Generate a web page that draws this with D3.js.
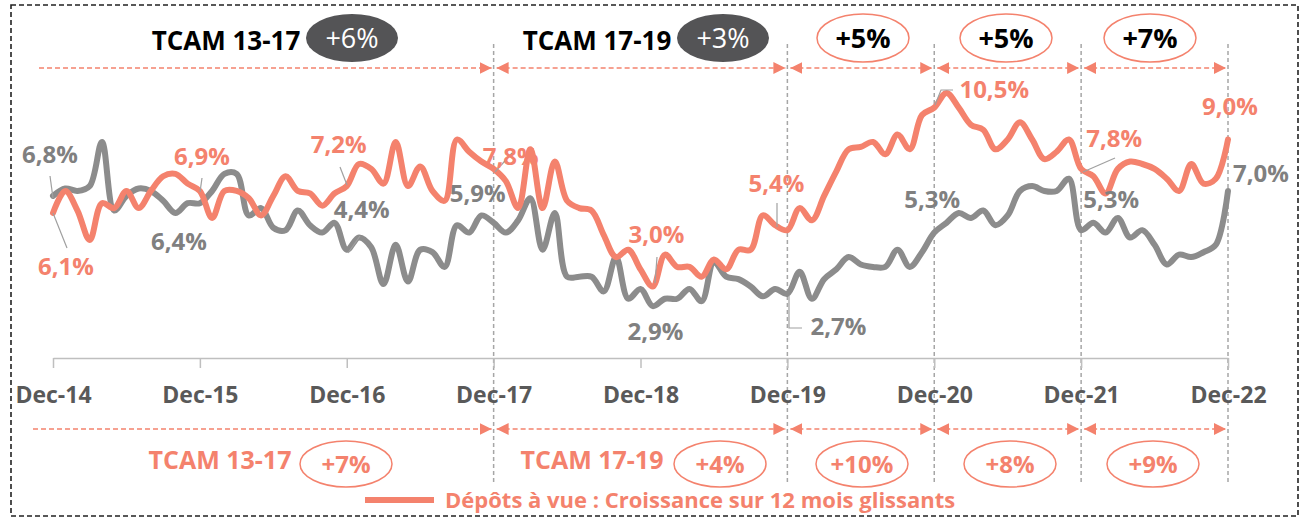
<!DOCTYPE html>
<html>
<head>
<meta charset="utf-8">
<script src="https://cdn.jsdelivr.net/npm/d3@7"></script>
<style>
  body { margin: 0; background: #fff; }
  svg { font-family: "Open Sans", sans-serif; }
</style>
</head>
<body>
<svg id="chart" width="1308" height="518"></svg>
<script>
// tick labels, one per December
const tickLabels = ['Dec-14', 'Dec-15', 'Dec-16', 'Dec-17', 'Dec-18', 'Dec-19', 'Dec-20', 'Dec-21', 'Dec-22'];

// 12-month growth, monthly from Dec-14 to Dec-22 (97 points)
const depots = [
  6.0, 6.9, 6.1, 4.9, 6.4, 6.2, 6.9, 6.2, 6.9, 7.5, 7.6, 7.2,
  6.9, 5.8, 6.9, 6.9, 6.6, 5.9, 6.7, 7.5, 6.9, 6.8, 6.3, 6.8,
  7.1, 8.0, 7.8, 7.2, 8.9, 7.1, 7.9, 6.9, 6.5, 9.0, 8.5, 8.1,
  7.8, 7.3, 6.2, 8.6, 6.2, 8.1, 6.5, 6.2, 6.1, 5.1, 4.2, 4.5,
  3.7, 3.0, 4.3, 3.8, 3.8, 3.4, 4.1, 3.7, 4.5, 4.5, 5.9, 5.5,
  5.3, 6.2, 5.7, 6.7, 7.7, 8.6, 8.7, 8.9, 8.4, 9.2, 8.6, 10.0,
  10.3, 10.9, 10.3, 9.6, 9.4, 8.6, 9.0, 9.7, 9.0, 8.2, 8.5, 9.0,
  7.8, 7.5, 6.8, 7.8, 8.1, 8.0, 7.8, 7.4, 6.9, 8.0, 7.2, 7.4,
  9.0
];

const other = [
  6.7, 7.0, 6.9, 7.1, 8.9, 6.1, 6.7, 7.0, 6.9, 6.5, 6.0, 6.4,
  6.4, 6.9, 7.6, 7.6, 5.9, 6.2, 5.4, 5.3, 6.1, 5.5, 5.2, 5.6,
  4.5, 5.0, 4.6, 3.1, 4.7, 3.2, 4.5, 4.4, 3.8, 5.5, 5.2, 5.9,
  5.6, 5.2, 5.7, 6.6, 4.5, 6.0, 3.4, 3.4, 3.4, 2.8, 4.2, 2.5,
  2.9, 2.2, 2.5, 2.5, 2.9, 2.4, 4.0, 3.4, 3.3, 3.0, 2.6, 2.9,
  2.7, 3.6, 2.5, 3.3, 3.7, 4.2, 3.9, 3.8, 3.8, 4.5, 3.8, 4.4,
  5.2, 5.6, 6.0, 5.8, 6.1, 5.5, 5.9, 6.9, 7.1, 6.9, 6.9, 7.4,
  5.3, 5.6, 5.2, 5.8, 5.0, 5.3, 4.7, 3.9, 4.3, 4.2, 4.4, 4.7,
  6.9
];

// period splits (month index) and growth rates
const periodStarts = [0, 36, 60, 72, 84];
const periodEnds = [36, 60, 72, 84, 96];
const topRates = ['+6%', '+3%', '+5%', '+5%', '+7%'];
const bottomRates = ['+7%', '+4%', '+10%', '+8%', '+9%'];
const periodNames = ['TCAM 13-17', 'TCAM 17-19'];

// point labels: [series, month index, text]
const pointLabels = [
  ['o', 0, '6,8%'], ['d', 0, '6,1%'], ['o', 12, '6,4%'], ['d', 12, '6,9%'],
  ['d', 24, '7,2%'], ['o', 24, '4,4%'], ['o', 36, '5,9%'], ['d', 36, '7,8%'],
  ['d', 48, '3,0%'], ['o', 48, '2,9%'], ['d', 60, '5,4%'], ['o', 60, '2,7%'],
  ['d', 72, '10,5%'], ['o', 72, '5,3%'], ['d', 84, '7,8%'], ['o', 84, '5,3%'],
  ['d', 96, '9,0%'], ['o', 96, '7,0%']
];

const ORANGE = '#F4826D';
const GREY = '#8C8C8C';
const LABEL_GREY = '#808080';

const svg = d3.select('#chart');

const x = d3.scaleLinear().domain([0, 96]).range([53, 1228]);
const y = d3.scaleLinear().domain([0, 12]).range([360, 66]);

// outer dashed frame
svg.append('rect')
    .attr('x', 11).attr('y', 5).attr('width', 1287).attr('height', 511)
    .attr('fill', 'none').attr('stroke', '#222').attr('stroke-width', 1.6)
    .attr('stroke-dasharray', '5,3');

// vertical dashed separators
svg.append('g')
    .selectAll('line')
    .data([36, 60, 72, 84, 96])
    .enter().append('line')
    .attr('x1', d => x(d)).attr('x2', d => x(d))
    .attr('y1', 44).attr('y2', 482)
    .attr('stroke', '#A6A6A6').attr('stroke-width', 1.5)
    .attr('stroke-dasharray', '4,3');

// x axis
const axis = svg.append('g')
    .attr('transform', 'translate(0,358)')
    .call(d3.axisBottom(x)
        .tickValues(d3.range(0, 97, 12))
        .tickFormat((d, i) => tickLabels[i])
        .tickSize(10)
        .tickSizeOuter(0));
axis.select('.domain').attr('stroke', '#BFBFBF').attr('stroke-width', 1.5);
axis.selectAll('.tick line').attr('stroke', '#BFBFBF').attr('stroke-width', 1.5);
axis.selectAll('.tick text')
    .attr('y', 45).attr('dy', null)
    .style('font-family', '"Open Sans", sans-serif')
    .style('font-size', '23px')
    .style('font-weight', 'bold')
    .attr('fill', '#595959');

// arrow markers
const defs = svg.append('defs');
defs.append('marker')
    .attr('id', 'arrow').attr('viewBox', '0 0 10 10')
    .attr('refX', 10).attr('refY', 5)
    .attr('markerWidth', 12).attr('markerHeight', 14)
    .attr('markerUnits', 'userSpaceOnUse')
    .attr('orient', 'auto-start-reverse')
    .append('path').attr('d', 'M0,0L10,5L0,10Z').attr('fill', ORANGE);

function arrowRow(yPos, firstStart) {
    svg.append('g')
        .selectAll('line')
        .data(periodStarts)
        .enter().append('line')
        .attr('x1', (d, i) => i === 0 ? firstStart : x(d) + 3)
        .attr('x2', (d, i) => x(periodEnds[i]) - 2)
        .attr('y1', yPos).attr('y2', yPos)
        .attr('stroke', ORANGE).attr('stroke-width', 1.5)
        .attr('stroke-dasharray', '5,3')
        .attr('marker-end', 'url(#arrow)')
        .attr('marker-start', (d, i) => i === 0 ? null : 'url(#arrow)');
}
arrowRow(68, 39);
arrowRow(429, 33);

// top period captions
const topNameX = [226, 597];
svg.append('g')
    .selectAll('text')
    .data(periodNames)
    .enter().append('text')
    .attr('x', (d, i) => topNameX[i]).attr('y', 50)
    .attr('text-anchor', 'middle')
    .text(d => d)
    .style('font-weight', 'bold')
    .style('font-size', '26px')
    .attr('fill', '#000');

const topEllX = [352, 723, 863, 1006, 1150];
const topEll = svg.append('g')
    .selectAll('g')
    .data(topRates)
    .enter().append('g');
topEll.append('ellipse')
    .attr('cx', (d, i) => topEllX[i]).attr('cy', 38)
    .attr('rx', 46).attr('ry', 24)
    .attr('fill', (d, i) => i < 2 ? '#545456' : '#fff')
    .attr('stroke', (d, i) => i < 2 ? 'none' : ORANGE)
    .attr('stroke-width', 1.5);
topEll.append('text')
    .attr('x', (d, i) => topEllX[i]).attr('y', 48)
    .attr('text-anchor', 'middle')
    .text(d => d)
    .style('font-size', '27px')
    .style('font-weight', (d, i) => i < 2 ? 'normal' : 'bold')
    .attr('fill', (d, i) => i < 2 ? '#fff' : '#000');

// bottom period captions
const botNameX = [220, 592];
svg.append('g')
    .selectAll('text')
    .data(periodNames)
    .enter().append('text')
    .attr('x', (d, i) => botNameX[i]).attr('y', 469)
    .attr('text-anchor', 'middle')
    .text(d => d)
    .style('font-weight', 'bold')
    .style('font-size', '25px')
    .attr('fill', ORANGE);

const botEllX = [346, 720, 862, 1010, 1153];
const botEll = svg.append('g')
    .selectAll('g')
    .data(bottomRates)
    .enter().append('g');
botEll.append('ellipse')
    .attr('cx', (d, i) => botEllX[i]).attr('cy', 464)
    .attr('rx', 46).attr('ry', 23)
    .attr('fill', '#fff')
    .attr('stroke', ORANGE).attr('stroke-width', 1.5);
botEll.append('text')
    .attr('x', (d, i) => botEllX[i]).attr('y', 473)
    .attr('text-anchor', 'middle')
    .text(d => d)
    .style('font-size', '24px')
    .style('font-weight', 'bold')
    .attr('fill', ORANGE);

// lines
const line = d3.line()
    .x((d, i) => x(i))
    .y(d => y(d))
    .curve(d3.curveCatmullRom);

svg.append('path')
    .datum(other)
    .attr('d', line)
    .attr('fill', 'none').attr('stroke', GREY).attr('stroke-width', 6)
    .attr('stroke-linejoin', 'round').attr('stroke-linecap', 'round');

svg.append('path')
    .datum(depots)
    .attr('d', line)
    .attr('fill', 'none').attr('stroke', ORANGE).attr('stroke-width', 6)
    .attr('stroke-linejoin', 'round').attr('stroke-linecap', 'round');

// label placement offsets from the point: [dx, dy] to text baseline centre
const labelOffsets = [
  [-3, -33], [13, 62], [-21, 47], [2, -26],
  [-8, -33], [15, -32], [-16, -21], [17, -4],
  [16, -26], [15, 51], [-11, -38], [51, 41],
  [60, -10], [-2, -25], [33, -22], [30, -22],
  [2, -25], [33, -9]
];
const leaders = [
  [[50, 176], [53, 198]], [[67, 248], [53, 213]], null, [[202, 178], [200, 192]],
  [[340, 167], [347, 185]], [[348, 253], [360, 236]], null, [[512, 153], [495, 172]],
  [[657, 257], [655, 283]], null, [[777, 203], [777, 227]], [[789, 296], [789, 328], [802, 328]],
  [[935, 105], [941, 90], [953, 90]], null, [[1115, 158], [1083, 172]], null,
  null, null
];

svg.append('g')
    .selectAll('path')
    .data(leaders.filter(d => d))
    .enter().append('path')
    .attr('d', d => d3.line()(d))
    .attr('fill', 'none').attr('stroke', '#A0A0A0').attr('stroke-width', 1.2);

svg.append('g')
    .selectAll('text')
    .data(pointLabels)
    .enter().append('text')
    .attr('x', (d, i) => x(d[1]) + labelOffsets[i][0])
    .attr('y', (d, i) => y(d[0] === 'd' ? depots[d[1]] : other[d[1]]) + labelOffsets[i][1])
    .attr('text-anchor', 'middle')
    .text(d => d[2])
    .style('font-size', '24px')
    .style('font-weight', 'bold')
    .attr('fill', d => d[0] === 'd' ? ORANGE : LABEL_GREY);

// legend
svg.append('line')
    .attr('x1', 365).attr('x2', 434).attr('y1', 500).attr('y2', 500)
    .attr('stroke', ORANGE).attr('stroke-width', 6);
svg.append('text')
    .attr('x', 445).attr('y', 508)
    .text('Dépôts à vue : Croissance sur 12 mois glissants')
    .style('font-size', '22px')
    .style('font-weight', 'bold')
    .attr('fill', ORANGE);
</script>
</body>
</html>
